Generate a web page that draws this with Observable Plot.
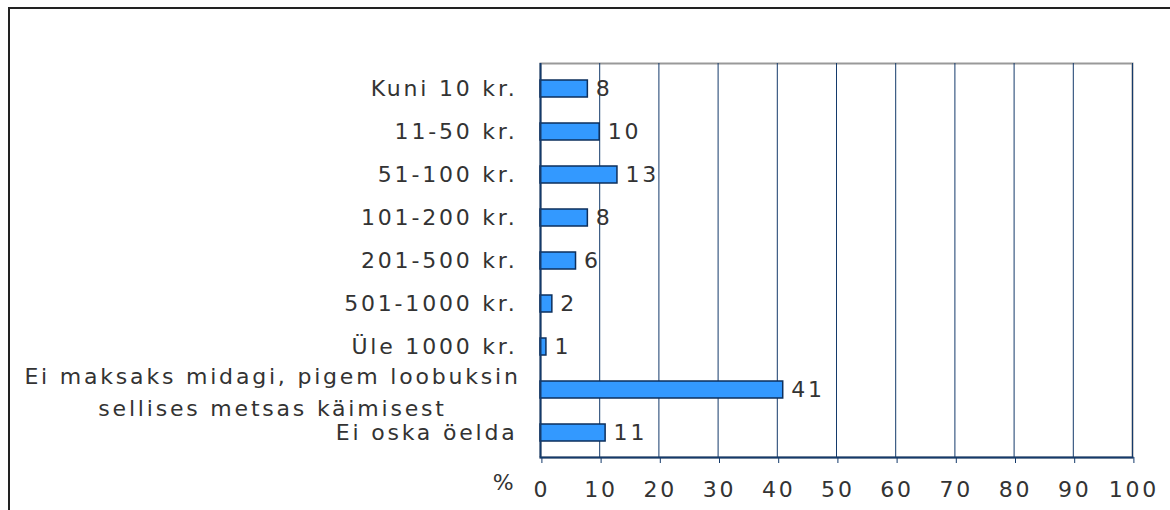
<!DOCTYPE html>
<html>
<head>
<meta charset="utf-8">
<script src="https://cdn.jsdelivr.net/npm/d3@7"></script>
<script src="https://cdn.jsdelivr.net/npm/@observablehq/plot@0.6"></script>
<style>
  html, body { margin: 0; padding: 0; background: #fff; overflow: hidden; }
  #wrap { position: relative; width: 1170px; height: 510px; }
  #border { position: absolute; left: 8px; top: 7px; width: 1200px; height: 600px;
            border: 2px solid #222; pointer-events: none; }
</style>
</head>
<body>
<div id="wrap"><div id="border"></div></div>
<script>
const categories = [
  "Kuni 10 kr.",
  "11-50 kr.",
  "51-100 kr.",
  "101-200 kr.",
  "201-500 kr.",
  "501-1000 kr.",
  "Üle 1000 kr.",
  "Ei maksaks midagi, pigem loobuksin\nsellises metsas käimisest",
  "Ei oska öelda"
];
const values = [8, 10, 13, 8, 6, 2, 1, 41, 11];
const xTicks = [0, 10, 20, 30, 40, 50, 60, 70, 80, 90, 100];
const axisUnit = "%";

const data = categories.map((c, i) => ({category: c, value: values[i]}));
const navy = "#143a6b";
const textColor = "#333333";

const chart = Plot.plot({
  width: 1170,
  height: 510,
  marginLeft: 540,
  marginRight: 38,
  marginTop: 63,
  marginBottom: 53,
  style: {fontFamily: "DejaVu Sans, sans-serif", fontSize: "22px", letterSpacing: "2.8px", color: textColor, background: "transparent"},
  x: {domain: [0, 100]},
  y: {domain: categories, paddingInner: 0.61, paddingOuter: 0.305, axis: null},
  marks: [
    Plot.frame({stroke: "#999", strokeWidth: 2}),
    Plot.gridX(xTicks, {stroke: navy, strokeOpacity: 1, strokeWidth: 1}),
    Plot.barX(data, {x: "value", y: "category", fill: "#3399ff", stroke: "#0d2f5c", strokeWidth: 1.5}),
    Plot.ruleX([0], {stroke: navy, strokeWidth: 2}),
    Plot.frame({anchor: "bottom", stroke: navy, strokeWidth: 2}),
    Plot.axisX(xTicks, {tickSize: 6, tickPadding: 18, stroke: navy, fill: textColor, label: null, tickFormat: d => String(d), dx: 1.4}),
    Plot.text([axisUnit], {x: 0, frameAnchor: "bottom", dy: 32, dx: -36, text: d => d, fill: textColor}),
    Plot.text(data, {x: "value", y: "category", text: d => String(d.value), textAnchor: "start", dx: 8, fill: textColor}),
    Plot.text(data.filter(d => !d.category.includes("\n")), {x: 0, y: "category", text: "category", textAnchor: "end", dx: -23, fill: textColor}),
    Plot.text(data.filter(d => d.category.includes("\n")), {x: 0, y: "category", text: "category", textAnchor: "middle", dx: -268, lineHeight: 1.45, fill: textColor})
  ]
});
document.getElementById("wrap").prepend(chart);
</script>
</body>
</html>
